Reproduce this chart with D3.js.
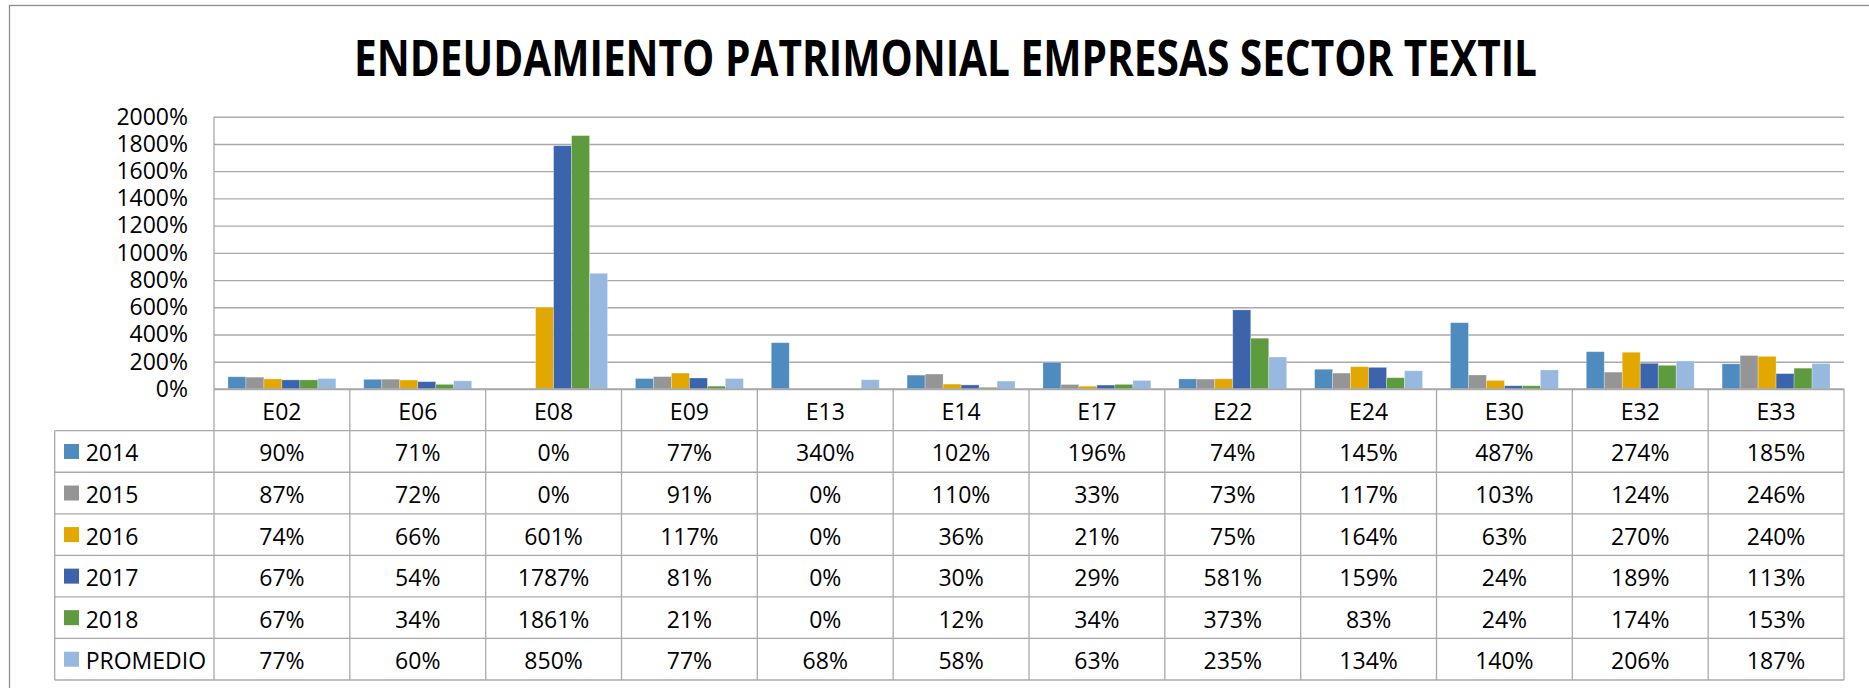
<!DOCTYPE html>
<html><head><meta charset="utf-8">
<script src="https://cdn.jsdelivr.net/npm/d3@7"></script>
<style>
html,body{margin:0;padding:0;background:#fff;}
svg text{font-family:"Open Sans",sans-serif;fill:#000;}
</style></head>
<body><svg id="c" width="1869" height="688"></svg>
<script>
const title = "ENDEUDAMIENTO PATRIMONIAL EMPRESAS SECTOR TEXTIL";
const categories = ["E02","E06","E08","E09","E13","E14","E17","E22","E24","E30","E32","E33"];
const seriesNames = ["2014","2015","2016","2017","2018","PROMEDIO"];
const v2014 = [90,71,0,77,340,102,196,74,145,487,274,185];
const v2015 = [87,72,0,91,0,110,33,73,117,103,124,246];
const v2016 = [74,66,601,117,0,36,21,75,164,63,270,240];
const v2017 = [67,54,1787,81,0,30,29,581,159,24,189,113];
const v2018 = [67,34,1861,21,0,12,34,373,83,24,174,153];
const vProm = [77,60,850,77,68,58,63,235,134,140,206,187];
const yTicks = [0,200,400,600,800,1000,1200,1400,1600,1800,2000];
const colors = ["#4E8BBF","#959595","#E3A800","#3C64AD","#5E9A3E","#97B9E0"];

const seriesValues = [v2014,v2015,v2016,v2017,v2018,vProm];
const svg = d3.select("#c");
const L=214, R=1844, T=116.7, B=389, tableTop=430.7, tableBottom=680, tableLeft=54.7;
const lineCol="#a9a9a9";

// outer frame
svg.append("rect").attr("x",9.5).attr("y",5.5).attr("width",1900).attr("height",800)
  .attr("fill","none").attr("stroke","#8c8c8c").attr("stroke-width",1.3);

// title
svg.append("text").text(title).attr("x",354).attr("y",76)
  .attr("text-anchor","start").attr("font-weight","bold").attr("font-size",51)
  .attr("textLength",1183).attr("lengthAdjust","spacingAndGlyphs");

const x = d3.scaleBand().domain(categories).range([L,R]).padding(0);
const x1 = d3.scaleBand().domain(seriesNames).range([0,x.bandwidth()]).paddingInner(0).paddingOuter(0.775);
const y = d3.scaleLinear().domain([0,2000]).range([B,T]);

// gridlines
svg.append("g").attr("transform",`translate(${L},0)`)
  .call(d3.axisRight(y).tickValues(yTicks).tickSize(R-L).tickFormat(""))
  .call(g=>g.select(".domain").remove())
  .call(g=>g.selectAll("line").attr("stroke",lineCol).attr("stroke-width",1.4));

// y axis labels
svg.append("g").attr("transform",`translate(${L},0)`)
  .call(d3.axisLeft(y).tickValues(yTicks).tickSize(0).tickPadding(26).tickFormat(d=>d+"%"))
  .call(g=>g.select(".domain").remove())
  .call(g=>g.selectAll("text").attr("font-size",23).attr("font-family","'Open Sans',sans-serif"));

// bars
const bars = svg.append("g");
seriesNames.forEach((s,si)=>{
  bars.selectAll(null).data(categories).enter().append("rect")
    .attr("x",c=>x(c)+x1(s))
    .attr("y",(c,i)=>y(seriesValues[si][i]))
    .attr("width",x1.bandwidth())
    .attr("height",(c,i)=>B-y(seriesValues[si][i]))
    .attr("fill",colors[si])
    .attr("stroke","#fff").attr("stroke-opacity",0.35).attr("stroke-width",0.8);
});

// table
const rowY = d3.scaleBand().domain(seriesNames).range([tableTop,tableBottom]);
const tg = svg.append("g").attr("stroke",lineCol).attr("stroke-width",1.3).attr("fill","none");
tg.append("line").attr("x1",L).attr("x2",L).attr("y1",T).attr("y2",tableBottom);
tg.append("line").attr("x1",L).attr("x2",R).attr("y1",B).attr("y2",B);
categories.forEach(c=>{
  const xr = x(c)+x.bandwidth();
  tg.append("line").attr("x1",xr).attr("x2",xr).attr("y1",B).attr("y2",tableBottom);
});
tg.append("line").attr("x1",tableLeft).attr("x2",tableLeft).attr("y1",tableTop).attr("y2",tableBottom);
seriesNames.forEach(s=>{
  tg.append("line").attr("x1",tableLeft).attr("x2",R).attr("y1",rowY(s)).attr("y2",rowY(s));
});
tg.append("line").attr("x1",tableLeft).attr("x2",R).attr("y1",tableBottom).attr("y2",tableBottom);

// category labels
svg.append("g").selectAll("text").data(categories).enter().append("text")
  .attr("x",c=>x(c)+x.bandwidth()/2).attr("y",(B+tableTop)/2+1)
  .attr("text-anchor","middle").attr("dominant-baseline","central")
  .attr("font-size",23).text(c=>c);

// legend keys + values
seriesNames.forEach((s,si)=>{
  const cy = rowY(s)+rowY.bandwidth()/2;
  svg.append("rect").attr("x",64).attr("y",cy-7.5).attr("width",15).attr("height",15).attr("fill",colors[si]);
  svg.append("text").attr("x",85.7).attr("y",cy+1).attr("dominant-baseline","central")
    .attr("font-size",23).text(s);
  svg.append("g").selectAll("text").data(categories).enter().append("text")
    .attr("x",c=>x(c)+x.bandwidth()/2).attr("y",cy+1)
    .attr("text-anchor","middle").attr("dominant-baseline","central")
    .attr("font-size",23).text((c,i)=>seriesValues[si][i]+"%");
});
</script></body></html>
